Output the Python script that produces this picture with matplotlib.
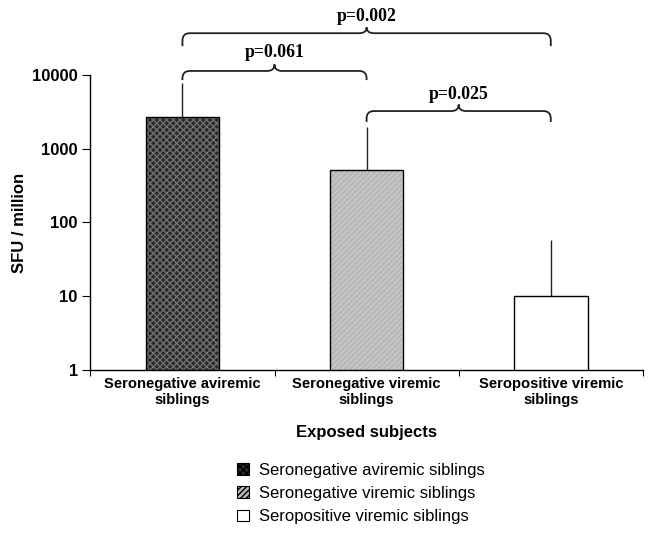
import numpy as np
import matplotlib
matplotlib.use("Agg")
import matplotlib.pyplot as plt
from matplotlib.patches import Patch, PathPatch
from matplotlib.path import Path

plt.rcParams['font.family'] = ['Liberation Sans', 'DejaVu Sans']
plt.rcParams['hatch.linewidth'] = 1.0

# Data
groups = ["Seronegative aviremic\nsiblings", "Seronegative viremic\nsiblings",
          "Seropositive viremic\nsiblings"]
legend_labels = ["Seronegative aviremic siblings", "Seronegative viremic siblings",
                 "Seropositive viremic siblings"]
values = [2700, 520, 10]
upper = [7800, 2000, 58]
yticks = [1, 10, 100, 1000, 10000]
ytick_labels = ["1", "10", "100", "1000", "10000"]

# comparisons: (left group, right group, label)
comparisons = [(0, 2, "p=0.002"), (0, 1, "p=0.061"), (1, 2, "p=0.025")]
# bracket heights in axes fraction (top line, ends, cusp, label)
bracket_y = [(1.142, 1.098, 1.162, 1.197),
             (1.014, 0.983, 1.036, 1.075),
             (0.878, 0.841, 0.900, 0.935)]

faces = ["#2a2a2a", "#b8b8b8", "white"]
hatch_cols = ["#707070", "#cacaca", "white"]
hatches = ["xxxxx", "//////", None]

fig = plt.figure(figsize=(6.5, 5.44), dpi=100)
ax = fig.add_axes([0.139, 0.32, 0.85, 0.542])

x = np.arange(len(groups))
w = 0.4
for i in range(len(groups)):
    ax.bar(x[i], values[i], w, color=faces[i], edgecolor=hatch_cols[i],
           hatch=hatches[i], linewidth=0, zorder=2)
ax.bar(x, values, w, facecolor="none", edgecolor="black", linewidth=1.0, zorder=3)
err = np.array(upper) - np.array(values)
ax.errorbar(x, values, yerr=[np.zeros(len(x)), err], fmt="none", ecolor="#222222",
            elinewidth=1.0, capsize=0, zorder=1)

ax.set_yscale("log")
ax.set_ylim(1, 10000)
ax.set_xlim(-0.5, 2.5)
ax.set_yticks(yticks)
ax.set_yticklabels(ytick_labels, fontsize=12, fontweight="bold")
ax.yaxis.set_minor_locator(matplotlib.ticker.NullLocator())
ax.set_xticks([-0.5, 0.5, 1.5, 2.5], minor=False)
ax.set_xticklabels([])
ax.set_xticks(x, minor=True)
ax.set_xticklabels(groups, minor=True, fontsize=10.6, fontweight="bold")
ax.tick_params(axis="x", which="minor", length=0, pad=5)
ax.tick_params(axis="x", which="major", length=4, direction="out")
ax.tick_params(axis="y", length=6, direction="out", pad=3)
for s in ["top", "right"]:
    ax.spines[s].set_visible(False)
ax.spines["left"].set_linewidth(1.0)
ax.spines["bottom"].set_linewidth(1.0)

ax.set_ylabel("SFU / million", fontsize=12, fontweight="bold", labelpad=4)
ax.set_xlabel("Exposed subjects", fontsize=12, fontweight="bold", labelpad=13)

# curly brackets
tr = ax.get_xaxis_transform()
rx, ry = 0.04, 0.025
for (a, b, lab), (yt, ye, yc, yl) in zip(comparisons, bracket_y):
    x0, x1 = x[a], x[b]
    xm = (x0 + x1) / 2
    verts = [(x0, ye), (x0, yt - ry), (x0, yt), (x0 + rx, yt),
             (xm - rx, yt), (xm, yt), (xm, yc),
             (xm, yt), (xm + rx, yt),
             (x1 - rx, yt), (x1, yt), (x1, yt - ry), (x1, ye)]
    codes = [Path.MOVETO, Path.LINETO, Path.CURVE3, Path.CURVE3,
             Path.LINETO, Path.CURVE3, Path.CURVE3,
             Path.CURVE3, Path.CURVE3,
             Path.LINETO, Path.CURVE3, Path.CURVE3, Path.LINETO]
    ax.add_patch(PathPatch(Path(verts, codes), transform=tr, facecolor="none",
                           edgecolor="#222222", linewidth=1.3, clip_on=False))
    ax.text(xm, yl, lab, transform=tr, ha="center", va="center", fontsize=12.8,
            fontweight="bold", family=["Liberation Serif", "DejaVu Serif"])

handles = [Patch(facecolor=faces[i], edgecolor="black", hatch=hatches[i], linewidth=0.8)
           for i in range(len(groups))]
fig.legend(handles, legend_labels, loc="center", bbox_to_anchor=(0.555, 0.093),
           frameon=False, fontsize=12, handlelength=0.7, handleheight=0.7,
           handletextpad=0.6, labelspacing=0.5)

fig.savefig("out.png", dpi=100)
